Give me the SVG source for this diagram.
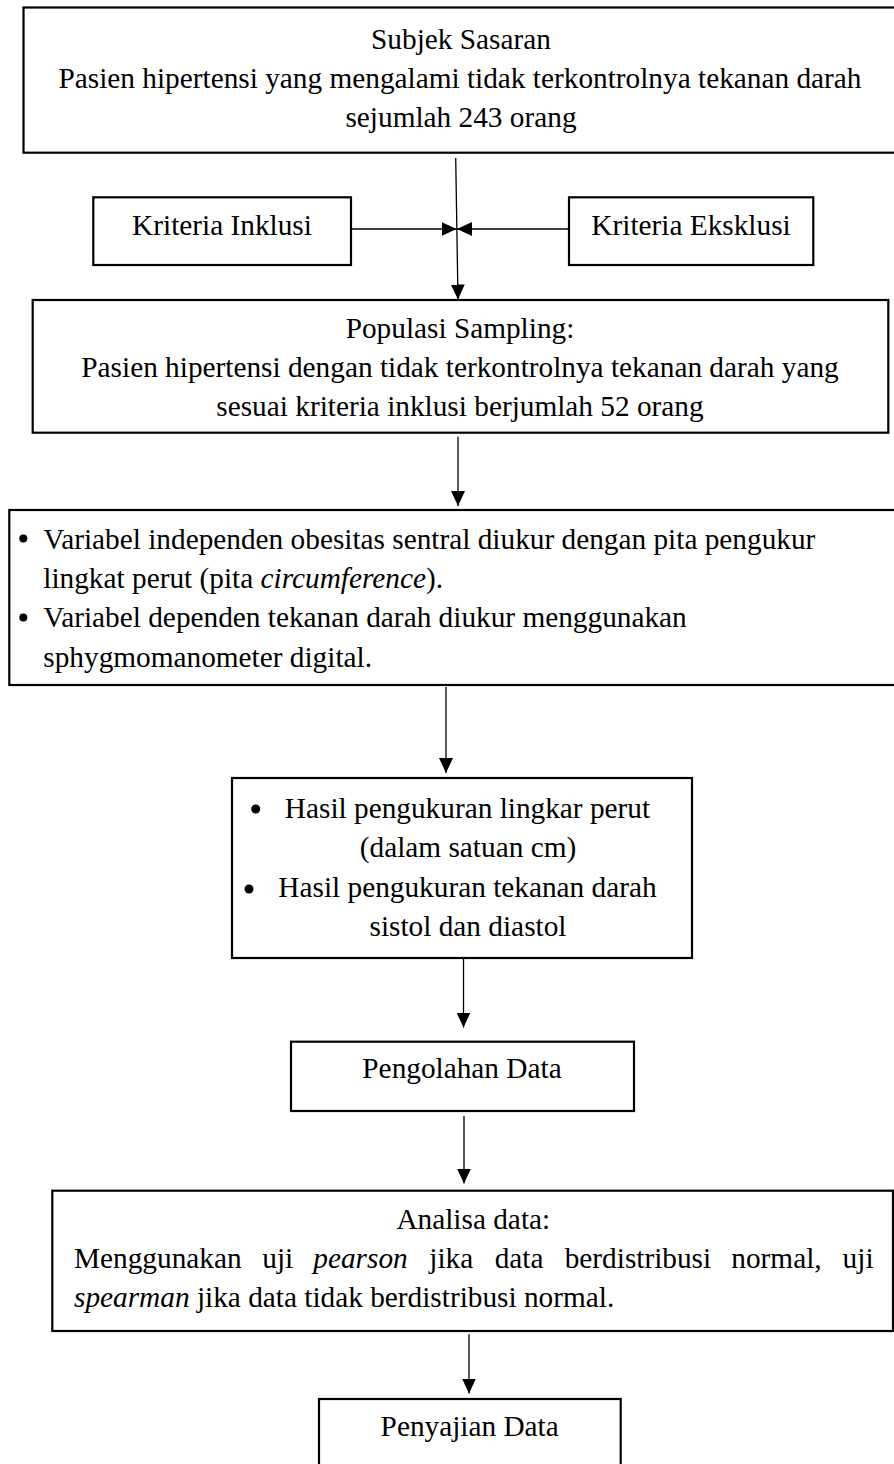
<svg xmlns="http://www.w3.org/2000/svg" width="894" height="1464" viewBox="0 0 894 1464">
<style>
  .box { fill: #fff; stroke: #000; stroke-width: 2.2; }
  .t { font-family: "Liberation Serif", "Times New Roman", serif; font-size: 29.3px; fill: #000; }
  .c { text-anchor: middle; }
  .i { font-style: italic; }
  .conn { stroke: #000; stroke-width: 1.3; fill: none; marker-end: url(#ah); }
  .dot { fill: #000; }
</style>
<defs>
  <marker id="ah" markerUnits="userSpaceOnUse" markerWidth="16" markerHeight="15" refX="15" refY="7" orient="auto">
    <path d="M0,0 L15,7 L0,14 z" fill="#000"/>
  </marker>
</defs>

<g id="connectors">
  <line class="conn" x1="455.7" y1="158" x2="458" y2="299.5"/>
  <line class="conn" x1="351" y1="229" x2="456.5" y2="229"/>
  <line class="conn" x1="569" y1="229" x2="457" y2="229"/>
  <line class="conn" x1="458" y1="436.7" x2="458" y2="506"/>
  <line class="conn" x1="446" y1="687" x2="446" y2="773"/>
  <line class="conn" x1="463.5" y1="959" x2="463.5" y2="1027.5"/>
  <line class="conn" x1="464" y1="1116" x2="464" y2="1183.5"/>
  <line class="conn" x1="469" y1="1334.3" x2="469" y2="1393.5"/>
</g>

<g id="subjek-sasaran">
  <rect class="box" x="23.5" y="7.5" width="890" height="145.2"/>
  <text class="t c" x="461" y="49.3">Subjek Sasaran</text>
  <text class="t c" x="460" y="88.3">Pasien hipertensi yang mengalami tidak terkontrolnya tekanan darah</text>
  <text class="t c" x="461" y="127.3">sejumlah 243 orang</text>
</g>

<g id="kriteria-inklusi">
  <rect class="box" x="93.3" y="197.3" width="257.7" height="67.7"/>
  <text class="t c" x="222" y="235">Kriteria Inklusi</text>
</g>

<g id="kriteria-eksklusi">
  <rect class="box" x="569" y="197.3" width="244.3" height="67.7"/>
  <text class="t c" x="691" y="235">Kriteria Eksklusi</text>
</g>

<g id="populasi-sampling">
  <rect class="box" x="32.7" y="300" width="855.6" height="132.7"/>
  <text class="t c" x="460" y="338.3">Populasi Sampling:</text>
  <text class="t c" x="460" y="377.3">Pasien hipertensi dengan tidak terkontrolnya tekanan darah yang</text>
  <text class="t c" x="460" y="415.5">sesuai kriteria inklusi berjumlah 52 orang</text>
</g>

<g id="variabel">
  <rect class="box" x="9.3" y="510" width="900" height="175"/>
  <circle class="dot" cx="23.3" cy="538.5" r="4"/>
  <text class="t" x="43.3" y="549">Variabel independen obesitas sentral diukur dengan pita pengukur</text>
  <text class="t" x="43.3" y="588">lingkat perut (pita <tspan class="i">circumference</tspan>).</text>
  <circle class="dot" cx="23.3" cy="617.5" r="4"/>
  <text class="t" x="43.3" y="627">Variabel dependen tekanan darah diukur menggunakan</text>
  <text class="t" x="43.3" y="666.5">sphygmomanometer digital.</text>
</g>

<g id="hasil-pengukuran">
  <rect class="box" x="232" y="778" width="460" height="180"/>
  <circle class="dot" cx="255.7" cy="809" r="4.5"/>
  <text class="t c" x="467.5" y="818">Hasil pengukuran lingkar perut</text>
  <text class="t c" x="468" y="857">(dalam satuan cm)</text>
  <circle class="dot" cx="249" cy="889" r="4.5"/>
  <text class="t c" x="467.5" y="896.5">Hasil pengukuran tekanan darah</text>
  <text class="t c" x="468" y="935.5">sistol dan diastol</text>
</g>

<g id="pengolahan-data">
  <rect class="box" x="291" y="1041.7" width="343" height="69.3"/>
  <text class="t c" x="462" y="1078.3">Pengolahan Data</text>
</g>

<g id="analisa-data">
  <rect class="box" x="52.3" y="1190.7" width="840.7" height="140.3"/>
  <text class="t c" x="473.3" y="1229.3">Analisa data:</text>
  <text class="t" y="1268.3"><tspan x="74">Menggunakan</tspan><tspan x="262.3">uji</tspan><tspan x="313.3" class="i">pearson</tspan><tspan x="429.3">jika</tspan><tspan x="494.7">data</tspan><tspan x="564.7">berdistribusi</tspan><tspan x="731.3">normal,</tspan><tspan x="842.6">uji</tspan></text>
  <text class="t" x="74" y="1306.7"><tspan class="i">spearman</tspan> jika data tidak berdistribusi normal.</text>
</g>

<g id="penyajian-data">
  <rect class="box" x="319" y="1399" width="301.7" height="80"/>
  <text class="t c" x="469.7" y="1436">Penyajian Data</text>
</g>
</svg>
